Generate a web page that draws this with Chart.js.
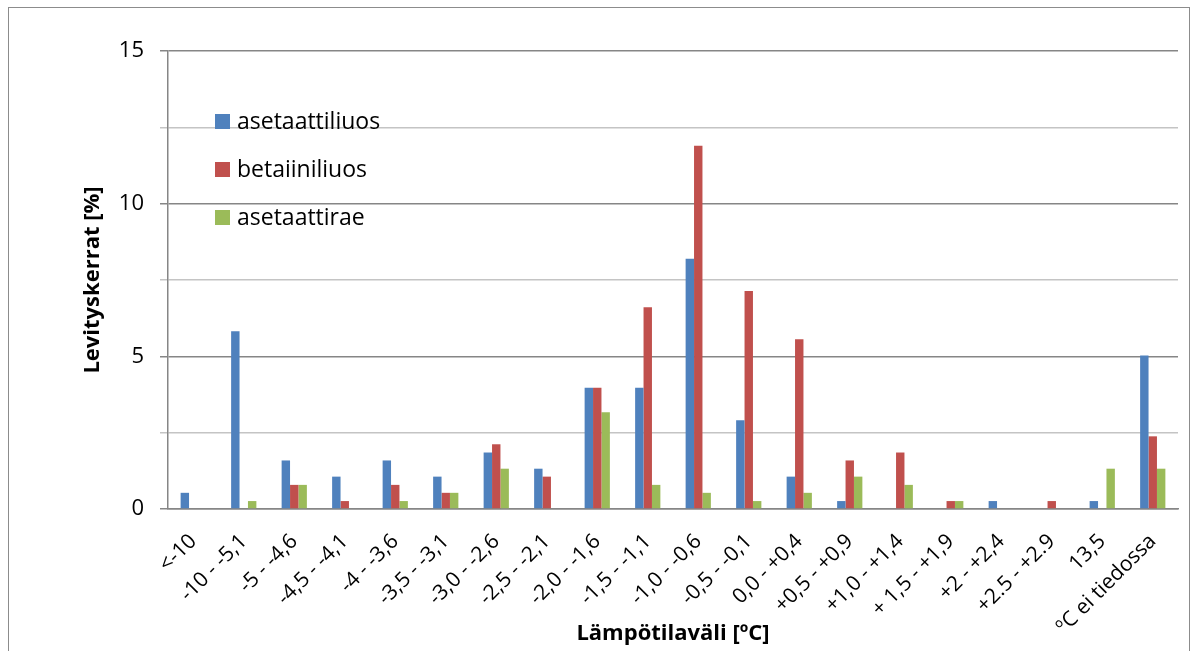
<!DOCTYPE html>
<html>
<head>
<meta charset="utf-8">
<script src="https://cdn.jsdelivr.net/npm/chart.js@4"></script>
<style>
  body { margin: 0; background: #fff; }
  #wrap { position: relative; width: 1197px; height: 651px; overflow: hidden; }
  #frame { position: absolute; left: 8px; top: 7px; width: 1180px; height: 700px; border: 1px solid #8c8c8c; }
  canvas { position: absolute; left: 0; top: 0; }
</style>
</head>
<body>
<div id="wrap">
  <div id="frame"></div>
  <canvas id="myChart" width="1197" height="651"></canvas>
</div>
<script>
var categories = ["<-10","-10 - -5,1","-5 - -4,6","-4,5 - -4,1","-4 - -3,6","-3,5 - -3,1","-3,0 - -2,6","-2,5 - -2,1","-2,0 - -1,6","-1,5 - -1,1","-1,0 - -0,6","-0,5 - -0,1","0,0 - +0,4","+0,5 - +0,9","+1,0 - +1,4","+ 1,5 - +1,9","+2 - +2,4","+2.5 - +2.9","13,5","ºC ei tiedossa"];
var asetaattiliuos = [0.53,5.82,1.59,1.06,1.59,1.06,1.85,1.32,3.97,3.97,8.20,2.91,1.06,0.26,0,0,0.26,0,0.26,5.03];
var betaiiniliuos  = [0,0,0.79,0.26,0.79,0.53,2.12,1.06,3.97,6.61,11.90,7.14,5.56,1.59,1.85,0.26,0,0.26,0,2.38];
var asetaattirae   = [0,0.26,0.79,0,0.26,0.53,1.32,0,3.17,0.79,0.53,0.26,0.53,1.06,0.79,0.26,0,0,1.32,1.32];
var seriesNames = ["asetaattiliuos","betaiiniliuos","asetaattirae"];
var yTicks = [0,5,10,15];

var FONT = "'Open Sans', 'DejaVu Sans', sans-serif";

// legend sits inside the plot, drawn by hand
var innerLegend = {
  id: 'innerLegend',
  afterDatasetsDraw(chart) {
    var ctx = chart.ctx;
    ctx.save();
    ctx.font = "23px " + FONT;
    ctx.textBaseline = 'middle';
    chart.data.datasets.forEach(function(ds, i){
      var y = 121 + i*48;
      ctx.fillStyle = ds.backgroundColor;
      ctx.fillRect(215, y-7, 15, 15);
      ctx.fillStyle = '#000';
      ctx.fillText(ds.label, 237, y+1);
    });
    ctx.restore();
  }
};

var charts = document.querySelector("#myChart").getContext('2d');
new Chart(charts, {
  type: 'bar',
  data: {
    labels: categories,
    datasets: [
      { label: seriesNames[0], data: asetaattiliuos, backgroundColor: '#4F81BD' },
      { label: seriesNames[1], data: betaiiniliuos,  backgroundColor: '#C0504D' },
      { label: seriesNames[2], data: asetaattirae,   backgroundColor: '#9BBB59' }
    ]
  },
  options: {
    responsive: false,
    animation: false,
    layout: { padding: { left: 78, top: 51, right: 19, bottom: 2 } },
    datasets: { bar: { barPercentage: 1, categoryPercentage: 0.5 } },
    plugins: { legend: { display: false }, tooltip: { enabled: false } },
    scales: {
      x: {
        grid: { display: false },
        border: { display: true, color: '#868686', width: 1.5 },
        ticks: {
          autoSkip: false, maxRotation: 45, minRotation: 45, padding: 12,
          color: '#000', font: { family: FONT, size: 21 }
        },
        title: {
          display: true, text: 'Lämpötilaväli [ºC]', color: '#000',
          font: { family: FONT, size: 22, weight: 'bold' }, padding: 2
        },
        afterFit: function(s){ s.height = 140; }
      },
      y: {
        min: 0, max: 15,
        grid: {
          color: function(c){ return (c.tick && c.tick.value % 5 === 0) ? '#868686' : '#c4c4c4'; },
          lineWidth: 1.5, tickLength: 8
        },
        border: { display: true, color: '#868686', width: 1.5 },
        ticks: {
          stepSize: 2.5, padding: 16, color: '#000',
          font: { family: FONT, size: 22 },
          callback: function(v){ return yTicks.indexOf(v) >= 0 ? v : ''; }
        },
        title: {
          display: true, text: 'Levityskerrat [%]', color: '#000',
          font: { family: FONT, size: 22, weight: 'bold' }, padding: 2
        },
        afterFit: function(s){ s.width = 90; }
      }
    }
  },
  plugins: [innerLegend]
});
</script>
</body>
</html>
